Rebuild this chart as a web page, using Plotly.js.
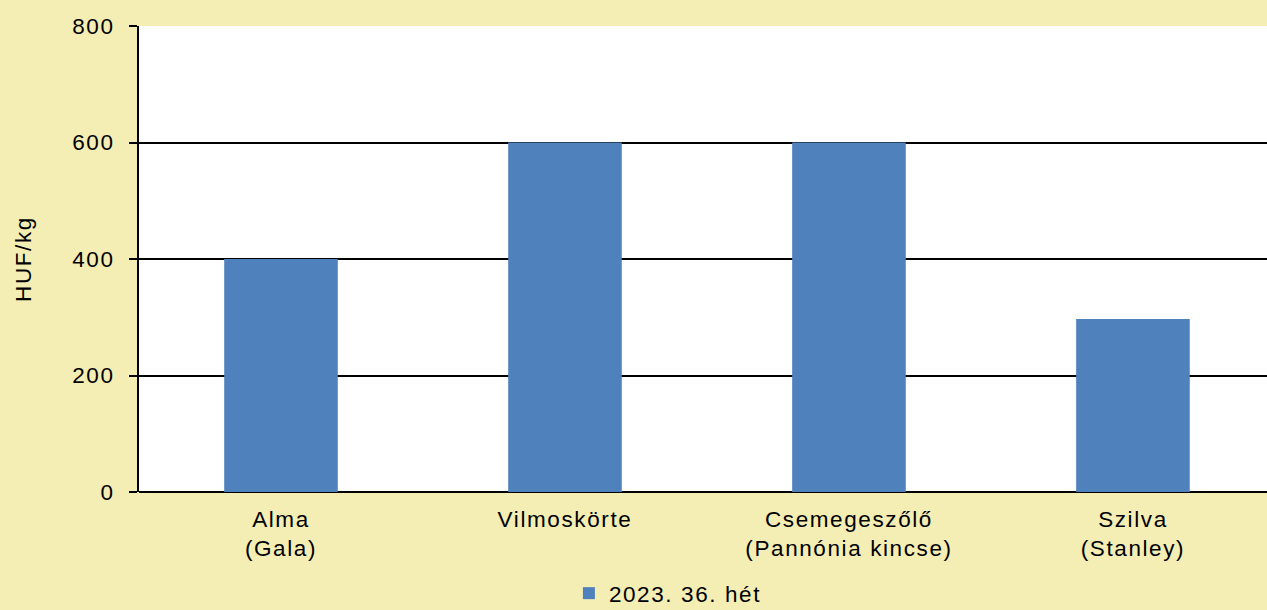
<!DOCTYPE html>
<html>
<head>
<meta charset="utf-8">
<script src="https://cdn.plot.ly/plotly-3.0.1.min.js"></script>
<style>
    html, body { margin: 0; padding: 0; background: #F5EEB4; overflow: hidden; }
    #chart { width: 1267px; height: 610px; }
    /* reference text is slightly letter-spaced; global so plotly's measuring node gets it too */
    svg text { letter-spacing: 1.6px; }
</style>
</head>
<body>
<div id="chart"></div>
<script>
// values
const categories = ['Alma<br>(Gala)', 'Vilmoskörte', 'Csemegeszőlő<br>(Pannónia kincse)', 'Szilva<br>(Stanley)'];
const prices = [400, 600, 600, 297];
const seriesName = '2023. 36. hét';
const yTicks = [0, 200, 400, 600, 800];

const trace = {
    x: categories,
    y: prices,
    type: 'bar',
    name: seriesName,
    width: 0.4,
    marker: { color: '#4F81BD', line: { width: 0 } },
    hoverinfo: 'x+y'
};

const layout = {
    width: 1267,
    height: 610,
    paper_bgcolor: '#F5EEB4',
    plot_bgcolor: '#FFFFFF',
    margin: { l: 139, r: 0, t: 26, b: 118 },
    font: { family: 'Liberation Sans, Arial, sans-serif', size: 22.5, color: '#000000' },
    showlegend: true,
    legend: {
        orientation: 'h',
        x: 0.449,
        xanchor: 'left',
        xref: 'container',
        y: 0.027,
        yanchor: 'middle',
        yref: 'container',
        font: { size: 22.5 },
        bgcolor: 'rgba(0,0,0,0)'
    },
    xaxis: {
        type: 'category',
        range: [-0.5, 3.472],
        showgrid: false,
        showline: false,
        ticks: '',
        ticklabelstandoff: 11,
        tickfont: { size: 22.5 },
        fixedrange: true
    },
    yaxis: {
        range: [0, 800],
        tickvals: yTicks,
        ticktext: yTicks.map(String),
        showgrid: true,
        gridcolor: '#000000',
        gridwidth: 2,
        zeroline: true,
        zerolinecolor: '#000000',
        zerolinewidth: 2,
        showline: true,
        linecolor: '#000000',
        linewidth: 2,
        ticks: 'outside',
        ticklen: 8,
        tickwidth: 2,
        tickcolor: '#000000',
        ticklabelstandoff: 10,
        tickfont: { size: 22.5 },
        title: { text: 'HUF/kg', font: { size: 22.5 }, standoff: 34 },
        fixedrange: true
    }
};

Plotly.newPlot('chart', [trace], layout, { displayModeBar: false, staticPlot: true });
</script>
</body>
</html>
